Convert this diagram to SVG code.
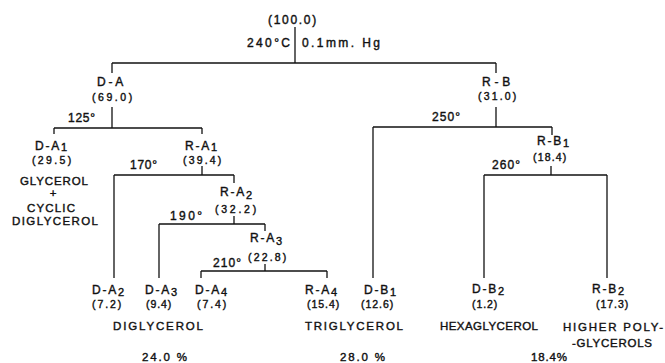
<svg xmlns="http://www.w3.org/2000/svg" width="665" height="363" viewBox="0 0 665 363">
<style>
text{font-family:"Liberation Sans","DejaVu Sans",Arial,sans-serif;fill:#111;stroke:#111;stroke-width:0.4px;}
.n{font-size:12px;letter-spacing:1.8px;}
.v{font-size:10.5px;letter-spacing:0.8px;}
.t{font-size:12px;}
.p{font-size:11.5px;}
.s{font-size:11px;}
.c line{stroke:#111;stroke-width:1.3;}
</style>
<rect width="665" height="363" fill="#fff"/>
<g id="connectors" class="c">
<line x1="295" y1="27" x2="295" y2="63"/>
<line x1="112" y1="63" x2="496" y2="63"/>
<line x1="112" y1="63" x2="112" y2="73"/>
<line x1="496" y1="63" x2="496" y2="73"/>
<line x1="112" y1="107" x2="112" y2="128"/>
<line x1="54" y1="128" x2="202" y2="128"/>
<line x1="54" y1="128" x2="54" y2="134"/>
<line x1="202" y1="128" x2="202" y2="134"/>
<line x1="202" y1="166" x2="202" y2="175"/>
<line x1="114" y1="175" x2="234" y2="175"/>
<line x1="114" y1="175" x2="114" y2="278"/>
<line x1="234" y1="175" x2="234" y2="183"/>
<line x1="234" y1="216" x2="234" y2="224"/>
<line x1="159" y1="224" x2="265" y2="224"/>
<line x1="159" y1="224" x2="159" y2="278"/>
<line x1="265" y1="224" x2="265" y2="231"/>
<line x1="265" y1="264" x2="265" y2="271"/>
<line x1="201" y1="271" x2="327" y2="271"/>
<line x1="201" y1="271" x2="201" y2="278"/>
<line x1="327" y1="271" x2="327" y2="278"/>
<line x1="496" y1="107" x2="496" y2="127"/>
<line x1="373" y1="127" x2="552" y2="127"/>
<line x1="373" y1="127" x2="373" y2="278"/>
<line x1="552" y1="127" x2="552" y2="135"/>
<line x1="551" y1="166" x2="551" y2="175"/>
<line x1="484" y1="175" x2="607" y2="175"/>
<line x1="484" y1="175" x2="484" y2="278"/>
<line x1="607" y1="175" x2="607" y2="278"/>
</g>
<g id="conditions">
<text class="t" x="247" y="47" textLength="43" lengthAdjust="spacing">240°C</text>
<text class="t" x="302" y="47" textLength="78" lengthAdjust="spacing">0.1mm. Hg</text>
<text class="t" x="68" y="122" textLength="27" lengthAdjust="spacing">125°</text>
<text class="t" x="130" y="169" textLength="27" lengthAdjust="spacing">170°</text>
<text class="t" x="170" y="220" textLength="32" lengthAdjust="spacing">190°</text>
<text class="t" x="213" y="267" textLength="28" lengthAdjust="spacing">210°</text>
<text class="t" x="432" y="121" textLength="28" lengthAdjust="spacing">250°</text>
<text class="t" x="492" y="169" textLength="28" lengthAdjust="spacing">260°</text>
</g>
<g id="root">
<text class="n" x="268" y="24" textLength="50" lengthAdjust="spacing">(100.0)</text>
</g>
<g id="D-A">
<text class="n" x="97" y="86" textLength="28" lengthAdjust="spacing">D-A</text>
<text class="v" x="92" y="101" textLength="41" lengthAdjust="spacing">(69.0)</text>
</g>
<g id="R-B">
<text class="n" x="482" y="86" textLength="30" lengthAdjust="spacing">R-B</text>
<text class="v" x="478" y="100" textLength="39" lengthAdjust="spacing">(31.0)</text>
</g>
<g id="D-A1">
<text class="n" x="35" y="150">D-A<tspan class="s" dy="1">1</tspan></text>
<text class="v" x="32" y="164" textLength="40" lengthAdjust="spacing">(29.5)</text>
<text class="p" x="20" y="185" textLength="68" lengthAdjust="spacing">GLYCEROL</text>
<text class="p" x="53" y="197" text-anchor="middle">+</text>
<text class="p" x="27" y="212" textLength="48" lengthAdjust="spacing">CYCLIC</text>
<text class="p" x="12" y="225" textLength="86" lengthAdjust="spacing">DIGLYCEROL</text>
</g>
<g id="R-A1">
<text class="n" x="185" y="150">R-A<tspan class="s" dy="1">1</tspan></text>
<text class="v" x="183" y="164" textLength="39" lengthAdjust="spacing">(39.4)</text>
</g>
<g id="R-A2">
<text class="n" x="220" y="196">R-A<tspan class="s" dy="3">2</tspan></text>
<text class="v" x="215" y="213" textLength="42" lengthAdjust="spacing">(32.2)</text>
</g>
<g id="R-A3">
<text class="n" x="250" y="242">R-A<tspan class="s" dy="3">3</tspan></text>
<text class="v" x="248" y="261" textLength="39" lengthAdjust="spacing">(22.8)</text>
</g>
<g id="D-A2">
<text class="n" x="92" y="294">D-A<tspan class="s" dy="2">2</tspan></text>
<text class="v" x="92" y="308" textLength="30" lengthAdjust="spacing">(7.2)</text>
</g>
<g id="D-A3">
<text class="n" x="145" y="294">D-A<tspan class="s" dy="2">3</tspan></text>
<text class="v" x="146" y="308" textLength="26" lengthAdjust="spacing">(9.4)</text>
</g>
<g id="D-A4">
<text class="n" x="195" y="294">D-A<tspan class="s" dy="2">4</tspan></text>
<text class="v" x="197" y="308" textLength="30" lengthAdjust="spacing">(7.4)</text>
</g>
<g id="R-A4">
<text class="n" x="305" y="294">R-A<tspan class="s" dy="2">4</tspan></text>
<text class="v" x="307" y="308" textLength="33" lengthAdjust="spacing">(15.4)</text>
</g>
<g id="R-B1">
<text class="n" x="537" y="145">R-B<tspan class="s" dy="2">1</tspan></text>
<text class="v" x="533" y="161" textLength="34" lengthAdjust="spacing">(18.4)</text>
</g>
<g id="D-B1">
<text class="n" x="364" y="294">D-B<tspan class="s" dy="2">1</tspan></text>
<text class="v" x="361" y="308" textLength="33" lengthAdjust="spacing">(12.6)</text>
</g>
<g id="D-B2">
<text class="n" x="472" y="293">D-B<tspan class="s" dy="2">2</tspan></text>
<text class="v" x="472" y="308" textLength="26" lengthAdjust="spacing">(1.2)</text>
</g>
<g id="R-B2">
<text class="n" x="592" y="293">R-B<tspan class="s" dy="2">2</tspan></text>
<text class="v" x="596" y="308" textLength="33" lengthAdjust="spacing">(17.3)</text>
</g>
<g id="products">
<text class="p" x="113" y="330" textLength="90" lengthAdjust="spacing">DIGLYCEROL</text>
<text class="p" x="305" y="330" textLength="98" lengthAdjust="spacing">TRIGLYCEROL</text>
<text class="p" x="440" y="330" textLength="98" lengthAdjust="spacing">HEXAGLYCEROL</text>
<text class="p" x="563" y="331" textLength="100" lengthAdjust="spacing">HIGHER POLY-</text>
<text class="p" x="572" y="347" textLength="80" lengthAdjust="spacing">-GLYCEROLS</text>
<text class="p" x="142" y="361" textLength="45" lengthAdjust="spacing">24.0 %</text>
<text class="p" x="340" y="361" textLength="45" lengthAdjust="spacing">28.0 %</text>
<text class="p" x="531" y="361" textLength="36" lengthAdjust="spacing">18.4%</text>
</g>
</svg>
